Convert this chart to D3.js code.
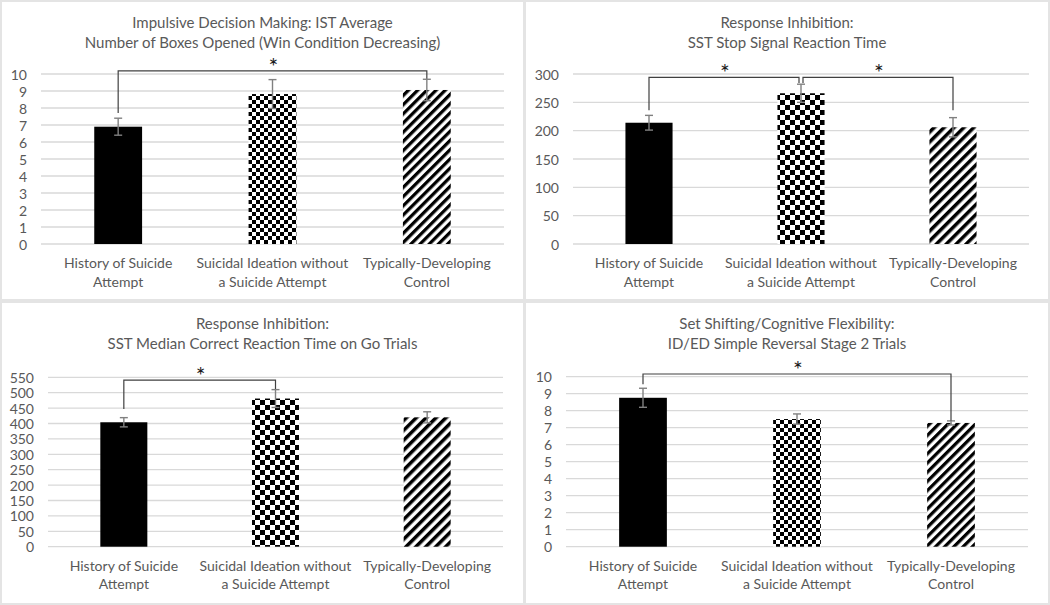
<!DOCTYPE html>
<html>
<head>
<meta charset="utf-8">
<script src="https://cdn.jsdelivr.net/npm/d3@7"></script>
<style>
  html, body { margin: 0; padding: 0; background: #ffffff; }
  svg { display: block; }
  text { font-family: Lato, "Open Sans", sans-serif; }
</style>
</head>
<body>
<svg id="chart" width="1050" height="605"></svg>
<script>
// ---------------- DATA ----------------
const categories = [
  ["History of Suicide", "Attempt"],
  ["Suicidal Ideation without", "a Suicide Attempt"],
  ["Typically-Developing", "Control"]
];

const titles = [
  ["Impulsive Decision Making: IST Average", "Number of Boxes Opened (Win Condition Decreasing)"],
  ["Response Inhibition:", "SST Stop Signal Reaction Time"],
  ["Response Inhibition:", "SST Median Correct Reaction Time on Go Trials"],
  ["Set Shifting/Cognitive Flexibility:", "ID/ED Simple Reversal Stage 2 Trials"]
];

const istValues = [6.9, 8.82, 9.06];
const istErrors = [0.5, 0.85, 0.63];

const ssrtValues = [214, 266, 206];
const ssrtErrors = [13, 16, 17];

const goRtValues = [404, 481, 420];
const goRtErrors = [15, 29, 18];

const reversalValues = [8.76, 7.51, 7.28];
const reversalErrors = [0.56, 0.3, 0.12];

const yMaxes = [10, 300, 550, 10];
const tickSteps = [1, 50, 50, 1];

// significance brackets: [fromCategory, toCategory, bracketValue, leftLegEnd, rightLegEnd]
const istBrackets = [[0, 2, 10.18, 7.7, 9.72]];
const ssrtBrackets = [[0, 1, 294, 236, 284], [1, 2, 294, 284, 236]];
const goRtBrackets = [[0, 1, 541, 447, 512]];
const reversalBrackets = [[0, 2, 10.16, 9.55, 7.41]];

const seriesValues = [istValues, ssrtValues, goRtValues, reversalValues];
const seriesErrors = [istErrors, ssrtErrors, goRtErrors, reversalErrors];
const seriesBrackets = [istBrackets, ssrtBrackets, goRtBrackets, reversalBrackets];

// ---------------- LAYOUT ----------------
const panels = [
  {x0: 2, y0: 2, w: 521, h: 297, left: 41, right: 504, zero: 244, top: 74, checker: 4, stripe: 6.5},
  {x0: 526, y0: 2, w: 522, h: 297, left: 573, right: 1029, zero: 244, top: 74, checker: 5, stripe: 7},
  {x0: 2, y0: 303, w: 521, h: 300, left: 48, right: 503, zero: 546.7, top: 377.3, checker: 5, stripe: 7},
  {x0: 526, y0: 303, w: 522, h: 300, left: 566, right: 1028, zero: 546.7, top: 376.7, checker: 4, stripe: 6.5}
];

const svg = d3.select("#chart");
svg.append("rect").attr("width", 1050).attr("height", 605).attr("fill", "#e4e4e4");

const defs = svg.append("defs");

panels.forEach((p, i) => {
  // patterns
  const cs = p.checker;
  const chk = defs.append("pattern").attr("id", "chk" + i)
    .attr("patternUnits", "userSpaceOnUse").attr("width", cs * 2).attr("height", cs * 2);
  chk.append("rect").attr("width", cs * 2).attr("height", cs * 2).attr("fill", "#fff");
  chk.append("rect").attr("width", cs).attr("height", cs).attr("fill", "#000");
  chk.append("rect").attr("x", cs).attr("y", cs).attr("width", cs).attr("height", cs).attr("fill", "#000");

  const sp = p.stripe;
  const str = defs.append("pattern").attr("id", "str" + i)
    .attr("patternUnits", "userSpaceOnUse").attr("width", sp).attr("height", sp)
    .attr("patternTransform", "rotate(45)");
  str.append("rect").attr("width", sp).attr("height", sp).attr("fill", "#fff");
  str.append("rect").attr("width", sp * 0.5).attr("height", sp).attr("fill", "#000");

  const fills = ["#000", `url(#chk${i})`, `url(#str${i})`];

  const g = svg.append("g");
  g.append("rect").attr("x", p.x0).attr("y", p.y0).attr("width", p.w).attr("height", p.h).attr("fill", "#fff");

  const values = seriesValues[i];
  const errors = seriesErrors[i];
  const yMax = yMaxes[i];

  const x = d3.scaleBand().domain(d3.range(categories.length))
    .range([p.left, p.right]).paddingInner(0.69).paddingOuter(0.345);
  const y = d3.scaleLinear().domain([0, yMax]).range([p.zero, p.top]);
  const ticks = d3.range(0, yMax + tickSteps[i] / 2, tickSteps[i]);

  // gridlines
  g.selectAll(".grid").data(ticks).join("line")
    .attr("x1", p.left).attr("x2", p.right)
    .attr("y1", d => y(d)).attr("y2", d => y(d))
    .attr("stroke", "#d9d9d9").attr("stroke-width", 1.3);

  // y tick labels
  g.selectAll(".ylab").data(ticks).join("text")
    .attr("x", p.left - 14).attr("y", d => y(d))
    .attr("text-anchor", "end").attr("dominant-baseline", "central")
    .attr("font-size", 14).attr("fill", "#595959")
    .text(d => d);

  // bars
  g.selectAll(".bar").data(values).join("rect")
    .attr("x", (d, k) => x(k)).attr("width", x.bandwidth())
    .attr("y", d => y(d)).attr("height", d => y(0) - y(d))
    .attr("fill", (d, k) => fills[k]);

  // error bars
  const cx = k => x(k) + x.bandwidth() / 2;
  const eb = g.selectAll(".err").data(values).join("g");
  eb.append("line")
    .attr("x1", (d, k) => cx(k)).attr("x2", (d, k) => cx(k))
    .attr("y1", (d, k) => y(d + errors[k])).attr("y2", (d, k) => y(d - errors[k]));
  eb.append("line")
    .attr("x1", (d, k) => cx(k) - 4).attr("x2", (d, k) => cx(k) + 4)
    .attr("y1", (d, k) => y(d + errors[k])).attr("y2", (d, k) => y(d + errors[k]));
  eb.append("line")
    .attr("x1", (d, k) => cx(k) - 4).attr("x2", (d, k) => cx(k) + 4)
    .attr("y1", (d, k) => y(d - errors[k])).attr("y2", (d, k) => y(d - errors[k]));
  eb.selectAll("line").attr("stroke", "#808080").attr("stroke-width", 1.4);

  // significance brackets
  const brackets = seriesBrackets[i];
  brackets.forEach(b => {
    const [a, c, yb, yl, yr] = b;
    let xa = cx(a), xc = cx(c);
    if (brackets.length > 1) {
      if (a === 1) xa += 2;
      if (c === 1) xc -= 2;
    }
    g.append("path")
      .attr("d", `M${xa},${y(yl)}V${y(yb)}H${xc}V${y(yr)}`)
      .attr("fill", "none").attr("stroke", "#404040").attr("stroke-width", 1.2);
    g.append("text")
      .attr("x", (xa + xc) / 2 + 1).attr("y", y(yb) + 4)
      .attr("text-anchor", "middle")
      .attr("font-size", 23).attr("fill", "#1a1a1a")
      .text("*");
  });

  // category labels
  categories.forEach((lines, k) => {
    const t = g.append("text")
      .attr("x", cx(k)).attr("y", p.zero + 24)
      .attr("text-anchor", "middle").attr("font-size", 14).attr("fill", "#595959");
    lines.forEach((ln, j) => {
      t.append("tspan").attr("x", cx(k)).attr("dy", j === 0 ? 0 : 18.5).text(ln);
    });
  });

  // title
  const tt = g.append("text")
    .attr("x", p.x0 + p.w / 2).attr("y", p.y0 + 26)
    .attr("text-anchor", "middle").attr("font-size", 15).attr("fill", "#595959");
  titles[i].forEach((ln, j) => {
    tt.append("tspan").attr("x", p.x0 + p.w / 2).attr("dy", j === 0 ? 0 : 20).text(ln);
  });
});
</script>
</body>
</html>
